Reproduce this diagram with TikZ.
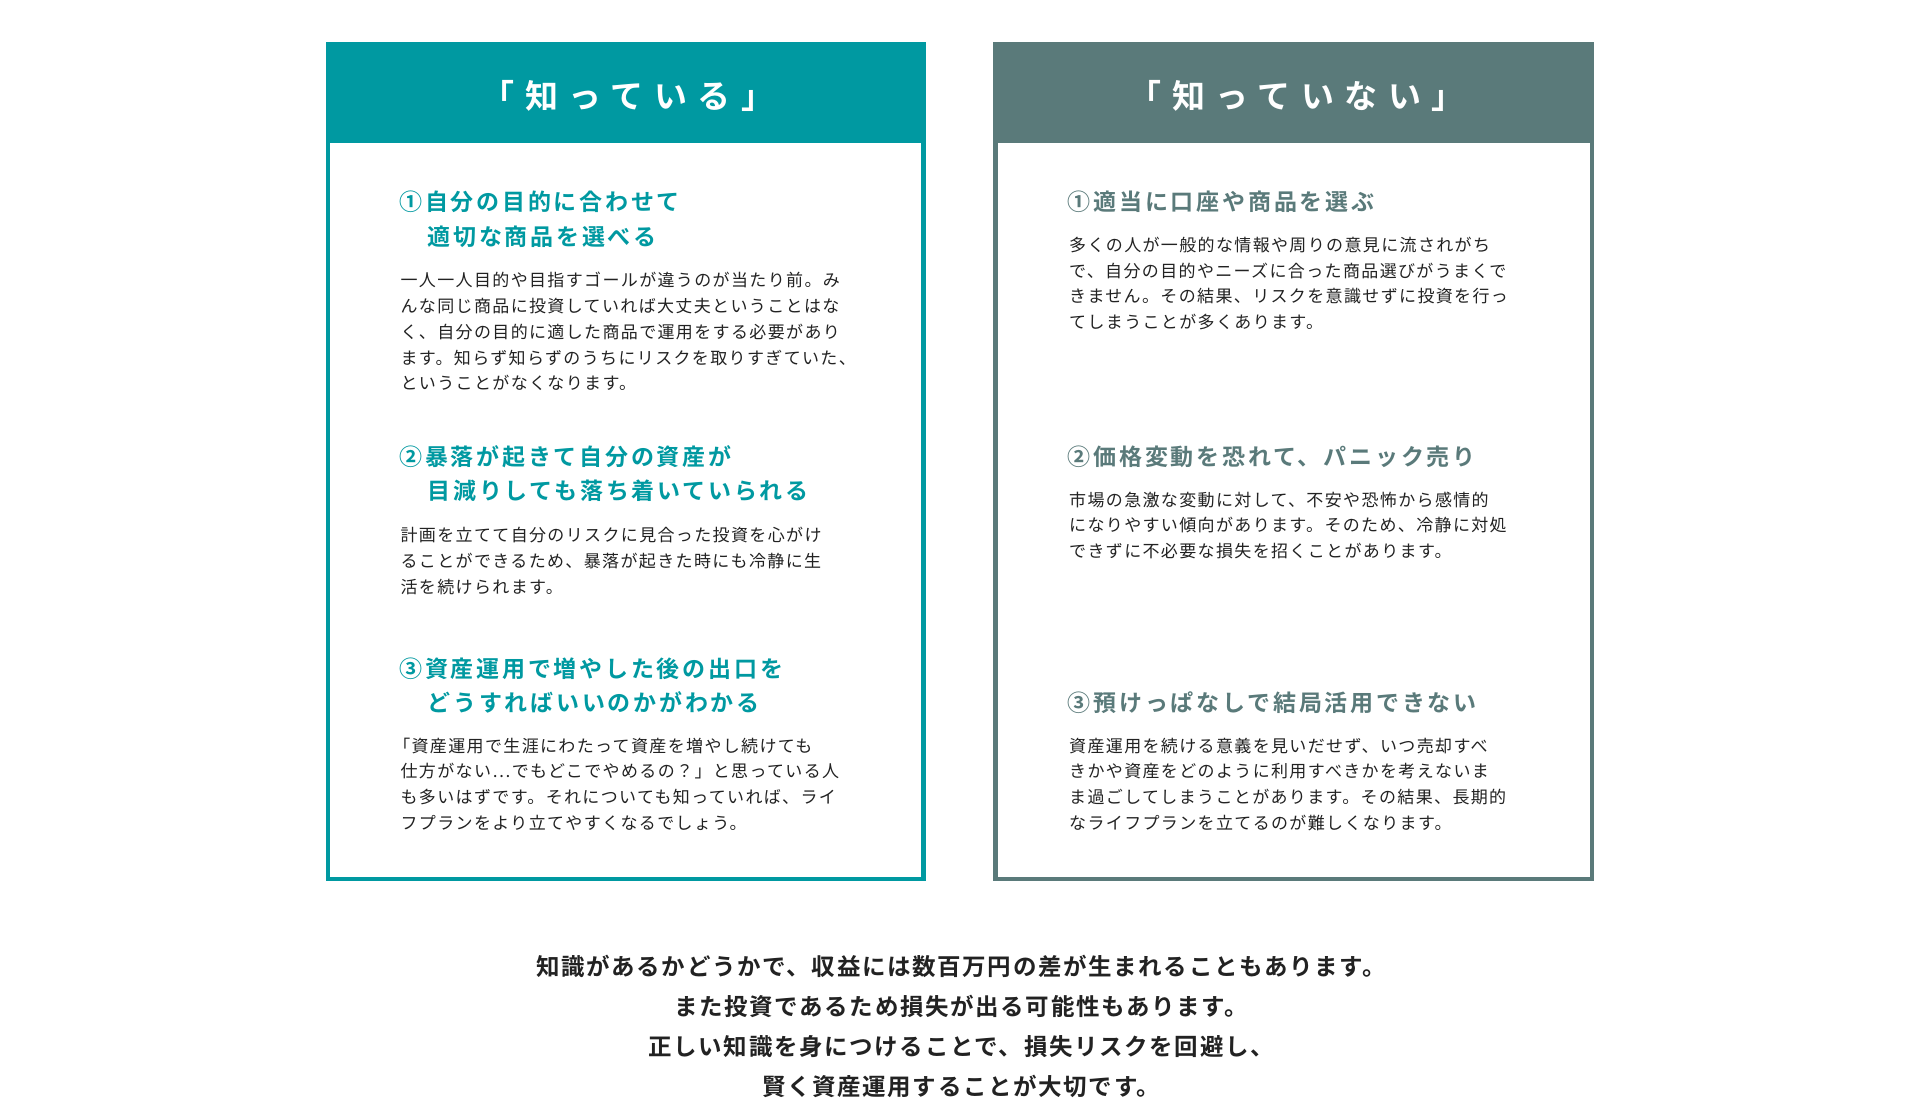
\documentclass[tikz,border=0pt]{standalone}
\usepackage{fontspec}
\setmainfont{Noto Sans CJK JP}
\newfontfamily\jpb[LetterSpace=12]{Noto Sans CJK JP Bold}
\newfontfamily\jpbb[LetterSpace=7]{Noto Sans CJK JP Bold}
\newfontfamily\jpt[LetterSpace=32]{Noto Sans CJK JP Bold}
\newfontfamily\jpr[LetterSpace=8]{Noto Sans CJK JP}
\definecolor{teal1}{HTML}{0099A1}
\definecolor{gray1}{HTML}{5A7A7A}
\definecolor{txt}{HTML}{222222}
\tikzset{
 ttl/.style={text=white,font=\jpt\fontsize{33}{36}\selectfont,inner sep=0},
 hd/.style={anchor=west,font=\jpb\fontsize{23}{26}\selectfont,inner sep=0},
 bd/.style={anchor=west,text=txt,font=\jpr\fontsize{17}{20}\selectfont,inner sep=0},
 bt/.style={text=txt,font=\jpbb\fontsize{23.5}{26}\selectfont,inner sep=0},
}
\begin{document}
\begin{tikzpicture}[x=1.2245pt,y=-1.2245pt]
\useasboundingbox (0,0) rectangle (1568,897.5);
% boxes
\draw[teal1,line width=4.5pt,fill=white] (268,36) rectangle (754,718);
\fill[teal1] (266,34) rectangle (756,117);
\draw[gray1,line width=4.5pt,fill=white] (813,36) rectangle (1300,718);
\fill[gray1] (811,34) rectangle (1302,117);
\node[ttl] (t1) at (513,78) {「知っている」};
\node[ttl] (t2) at (1059,78) {「知っていない」};
% left
\node[hd,text=teal1] (l1a) at (326,165) {①自分の目的に合わせて};
\node[hd,text=teal1] (l1b) at (349,193) {適切な商品を選べる};
\node[bd] (l1c) at (327,229) {一人一人目的や目指すゴールが違うのが当たり前。み};
\node[bd] (l1d) at (327,250) {んな同じ商品に投資していれば大丈夫ということはな};
\node[bd] (l1e) at (327,271) {く、自分の目的に適した商品で運用をする必要があり};
\node[bd] (l1f) at (327,292) {ます。知らず知らずのうちにリスクを取りすぎていた、};
\node[bd] (l1g) at (327,313) {ということがなくなります。};
\node[hd,text=teal1] (l2a) at (326,373) {②暴落が起きて自分の資産が};
\node[hd,text=teal1] (l2b) at (349,401) {目減りしても落ち着いていられる};
\node[bd] (l2c) at (327,437) {計画を立てて自分のリスクに見合った投資を心がけ};
\node[bd] (l2d) at (327,458) {ることができるため、暴落が起きた時にも冷静に生};
\node[bd] (l2e) at (327,479) {活を続けられます。};
\node[hd,text=teal1] (l3a) at (326,546) {③資産運用で増やした後の出口を};
\node[hd,text=teal1] (l3b) at (349,574) {どうすればいいのかがわかる};
\node[bd] (l3c) at (321,609) {「資産運用で生涯にわたって資産を増やし続けても};
\node[bd] (l3d) at (327,630) {仕方がない…でもどこでやめるの？」と思っている人};
\node[bd] (l3e) at (327,651) {も多いはずです。それについても知っていれば、ライ};
\node[bd] (l3f) at (327,672) {フプランをより立てやすくなるでしょう。};
% right
\node[hd,text=gray1] (r1a) at (872,165) {①適当に口座や商品を選ぶ};
\node[bd] (r1c) at (873,200) {多くの人が一般的な情報や周りの意見に流されがち};
\node[bd] (r1d) at (873,221) {で、自分の目的やニーズに合った商品選びがうまくで};
\node[bd] (r1e) at (873,242) {きません。その結果、リスクを意識せずに投資を行っ};
\node[bd] (r1f) at (873,263) {てしまうことが多くあります。};
\node[hd,text=gray1] (r2a) at (872,373) {②価格変動を恐れて、パニック売り};
\node[bd] (r2c) at (873,408) {市場の急激な変動に対して、不安や恐怖から感情的};
\node[bd] (r2d) at (873,429) {になりやすい傾向があります。そのため、冷静に対処};
\node[bd] (r2e) at (873,450) {できずに不必要な損失を招くことがあります。};
\node[hd,text=gray1] (r3a) at (872,574) {③預けっぱなしで結局活用できない};
\node[bd] (r3c) at (873,609) {資産運用を続ける意義を見いだせず、いつ売却すべ};
\node[bd] (r3d) at (873,630) {きかや資産をどのように利用すべきかを考えないま};
\node[bd] (r3e) at (873,651) {ま過ごしてしまうことがあります。その結果、長期的};
\node[bd] (r3f) at (873,672) {なライフプランを立てるのが難しくなります。};
% bottom
\node[bt] (b1) at (785,789) {知識があるかどうかで、収益には数百万円の差が生まれることもあります。};
\node[bt] (b2) at (785,822) {また投資であるため損失が出る可能性もあります。};
\node[bt] (b3) at (785,855) {正しい知識を身につけることで、損失リスクを回避し、};
\node[bt] (b4) at (785,887) {賢く資産運用することが大切です。};
\end{tikzpicture}
\end{document}
